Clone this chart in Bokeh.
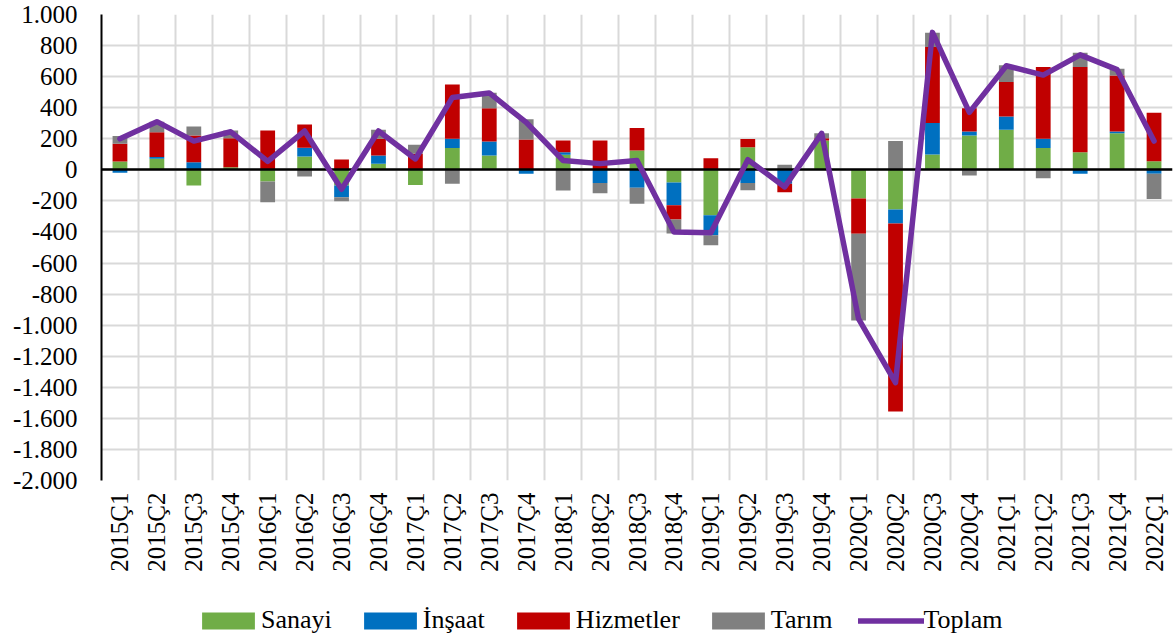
import numpy as np
from bokeh.plotting import figure
from bokeh.layouts import column
from bokeh.models import (ColumnDataSource, Range1d, FixedTicker, Legend, LegendItem)
from bokeh.embed import file_html
from bokeh.resources import INLINE

categories = ["2015Ç1", "2015Ç2", "2015Ç3", "2015Ç4",
              "2016Ç1", "2016Ç2", "2016Ç3", "2016Ç4",
              "2017Ç1", "2017Ç2", "2017Ç3", "2017Ç4",
              "2018Ç1", "2018Ç2", "2018Ç3", "2018Ç4",
              "2019Ç1", "2019Ç2", "2019Ç3", "2019Ç4",
              "2020Ç1", "2020Ç2", "2020Ç3", "2020Ç4",
              "2021Ç1", "2021Ç2", "2021Ç3", "2021Ç4",
              "2022Ç1"]

sanayi = [54, 71, -101, 17, -75, 86, -101, 39, -97, 140, 92, 0, 97, 0, 125, -82,
          -292, 146, 0, 189, -185, -256, 99, 221, 258, 140, 114, 236, 56]
insaat = [-19, 11, 49, 0, 0, 56, -75, 54, 0, 60, 90, -26, 17, -84, -116, -146,
          -129, -84, -90, 0, 0, -90, 202, 26, 86, 60, -26, 11, -26]
hizmetler = [114, 160, 172, 187, 254, 150, 67, 107, 103, 350, 215, 196, 75, 189, 144, -92,
             75, 52, -55, 15, -226, -1210, 490, 150, 221, 462, 548, 361, 312]
tarim = [50, 68, 58, 49, -133, -43, -26, 58, 58, -90, 99, 129, -133, -67, -103, -90,
         -64, -47, 32, 32, -559, 185, 92, -37, 108, -54, 92, 43, -161]
toplam = [200, 310, 185, 245, 55, 250, -125, 250, 70, 465, 495, 305, 60, 40, 60, -400,
          -405, 65, -110, 235, -960, -1370, 885, 370, 670, 610, 740, 645, 185]

series_names = ["Sanayi", "İnşaat", "Hizmetler", "Tarım"]
series_values = [sanayi, insaat, hizmetler, tarim]
series_colors = ["#70AD47", "#0070C0", "#C00000", "#808080"]
total_name = "Toplam"
total_color = "#7030A0"

y_ticks = list(range(-2000, 1001, 200))

FONT = "Liberation Serif, Times New Roman, serif"

def fmt(v):
    s = f"{abs(v):,}".replace(",", ".")
    return ("-" if v < 0 else "") + s

n = len(categories)
x = [float(i) for i in range(n)]

p = figure(width=1173, height=585, output_backend="svg", toolbar_location=None,
           x_range=Range1d(-0.5, n - 0.5), y_range=Range1d(-2000, 1000),
           min_border_left=101, min_border_right=1, min_border_top=14, min_border_bottom=105)
p.outline_line_color = None
p.background_fill_color = "white"
p.border_fill_color = "white"

# grids
p.xgrid.ticker = FixedTicker(ticks=[i - 0.5 for i in range(n + 1)])
p.xgrid.grid_line_color = "#D9D9D9"
p.xgrid.grid_line_width = 2
p.ygrid.grid_line_color = "#D9D9D9"
p.ygrid.grid_line_width = 2

# y axis
p.yaxis.ticker = FixedTicker(ticks=y_ticks)
p.yaxis.major_label_overrides = {t: fmt(t) for t in y_ticks}
p.yaxis.major_label_text_font = FONT
p.yaxis.major_label_text_font_size = "25px"
p.yaxis.major_label_text_color = "black"
p.yaxis.major_tick_line_color = None
p.yaxis.minor_tick_line_color = None
p.yaxis.axis_line_color = "black"
p.yaxis.axis_line_width = 2
p.yaxis.major_label_standoff = 18

# x axis
p.xaxis.ticker = FixedTicker(ticks=list(range(n)))
p.xaxis.major_label_overrides = {i: c for i, c in enumerate(categories)}
p.xaxis.major_label_orientation = np.pi / 2
p.xaxis.major_label_text_font = FONT
p.xaxis.major_label_text_font_size = "25px"
p.xaxis.major_label_text_color = "black"
p.xaxis.major_tick_line_color = None
p.xaxis.minor_tick_line_color = None
p.xaxis.axis_line_color = None
p.xaxis.major_label_standoff = 6

# stacked bars (positive up, negative down, in series order)
pos_base = np.zeros(n)
neg_base = np.zeros(n)
for name, vals, col in zip(series_names, series_values, series_colors):
    v = np.array(vals, dtype=float)
    bottom = np.where(v >= 0, pos_base, neg_base + v)
    top = np.where(v >= 0, pos_base + v, neg_base)
    pos_base = pos_base + np.where(v >= 0, v, 0)
    neg_base = neg_base + np.where(v < 0, v, 0)
    src = ColumnDataSource(dict(x=x, top=top.tolist(), bottom=bottom.tolist()))
    p.vbar(x="x", width=0.4, top="top", bottom="bottom", source=src,
           fill_color=col, line_color=None)

# zero axis line
p.hspan(y=[0], line_color="black", line_width=2.5)

# total line
line_src = ColumnDataSource(dict(x=x, y=toplam))
p.line(x="x", y="y", source=line_src, line_color=total_color, line_width=5.5,
       line_join="round", line_cap="round")

# legend strip (separate small figure holding only legend keys, drawn off-range)
lg = figure(width=1173, height=55, output_backend="svg", toolbar_location=None,
            x_range=Range1d(100, 101), y_range=Range1d(100, 101),
            x_axis_location=None, y_axis_location=None,
            min_border_left=101, min_border_right=1, min_border_top=0, min_border_bottom=0)
lg.grid.visible = False
lg.outline_line_color = None
lg.background_fill_color = "white"
lg.border_fill_color = "white"

items = []
for nm, col in zip(series_names, series_colors):
    r = lg.vbar(x=[0], top=[0], width=0.1, fill_color=col, line_color=None)
    items.append(LegendItem(label=nm, renderers=[r]))
rl = lg.line(x=[0, 0], y=[0, 0], line_color=total_color, line_width=5.5, line_cap="round")
items.append(LegendItem(label=total_name, renderers=[rl]))

legend = Legend(items=items, orientation="horizontal", location=(94, 5),
                glyph_width=66, glyph_height=21, label_standoff=0, spacing=25,
                padding=0, margin=0, border_line_color=None,
                label_text_font=FONT, label_text_font_size="26px",
                label_text_color="black", background_fill_alpha=0)
lg.add_layout(legend)

layout = column(p, lg, spacing=0)
open("out.html", "w").write(file_html(layout, INLINE))
